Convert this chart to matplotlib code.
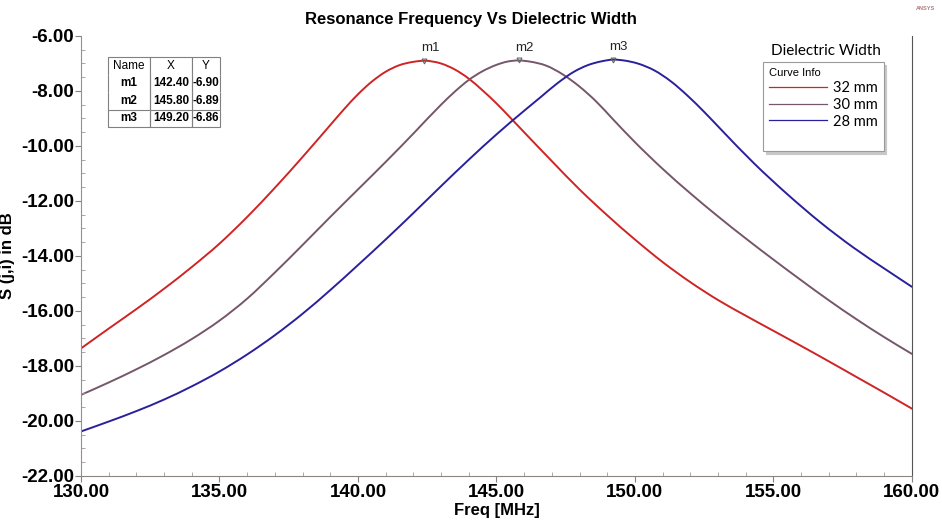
import numpy as np
import matplotlib.pyplot as plt
from matplotlib.ticker import MultipleLocator, FormatStrFormatter
from matplotlib.lines import Line2D
from matplotlib.path import Path
from matplotlib.patches import PathPatch

# S(j,i) sweeps for three dielectric widths
freq_32 = [130, 131, 132, 133, 134, 135, 136, 137, 138, 139, 139.5, 140,
           140.5, 141, 141.5, 142, 142.4, 143, 143.5, 144, 144.5, 145, 145.5,
           146, 147, 148, 149, 150, 151, 152, 153, 154, 155, 156, 157, 158,
           159, 160]
sdb_32 = [-17.36, -16.64, -15.93, -15.19, -14.40, -13.55, -12.58, -11.52,
          -10.40, -9.24, -8.66, -8.12, -7.66, -7.30, -7.06, -6.94, -6.90,
          -7.00, -7.22, -7.55, -7.98, -8.45, -8.97, -9.50, -10.55, -11.58,
          -12.52, -13.40, -14.22, -14.95, -15.60, -16.17, -16.72, -17.27,
          -17.83, -18.40, -18.97, -19.55]

freq_30 = [130, 131, 132, 133, 134, 135, 136, 137, 138, 139, 140, 141, 142,
           143, 143.5, 144, 144.5, 145, 145.4, 145.8, 146.2, 146.8, 147.4,
           148, 148.6, 149.2, 150, 151, 152, 153, 154, 155, 156, 157, 158,
           159, 160]
sdb_30 = [-19.05, -18.60, -18.12, -17.60, -17.02, -16.35, -15.55, -14.60,
          -13.60, -12.58, -11.58, -10.58, -9.55, -8.50, -8.02, -7.60, -7.28,
          -7.05, -6.93, -6.89, -6.93, -7.08, -7.40, -7.84, -8.38, -9.02,
          -9.86, -10.83, -11.72, -12.56, -13.36, -14.13, -14.88, -15.61,
          -16.30, -16.95, -17.56]

freq_28 = [130, 131, 132, 133, 134, 135, 136, 137, 138, 139, 140, 141, 142,
           143, 144, 145, 146, 146.6, 147.2, 147.8, 148.3, 148.8, 149.2,
           149.6, 150.1, 150.7, 151.3, 151.9, 152.5, 153.1, 154.3, 155.5,
           156.7, 157.9, 159.1, 160]
sdb_28 = [-20.38, -20.02, -19.64, -19.22, -18.74, -18.20, -17.58, -16.88,
          -16.10, -15.24, -14.33, -13.40, -12.44, -11.46, -10.50, -9.58,
          -8.72, -8.22, -7.72, -7.30, -7.06, -6.92, -6.86, -6.89, -7.00,
          -7.25, -7.65, -8.17, -8.76, -9.39, -10.63, -11.75, -12.78, -13.70,
          -14.52, -15.12]

series = [
    ("32 mm", freq_32, sdb_32, "#cf2424"),
    ("30 mm", freq_30, sdb_30, "#76566a"),
    ("28 mm", freq_28, sdb_28, "#2a209c"),
]

# marker readout at each resonance
marker_names = ["m1", "m2", "m3"]
marker_x = [142.40, 145.80, 149.20]
marker_y = [-6.90, -6.89, -6.86]


def smooth_path(x, y):
    # cubic Hermite through the samples, written as Bezier segments
    x = np.asarray(x, float)
    y = np.asarray(y, float)
    h = np.diff(x)
    d = np.diff(y) / h
    m = np.empty_like(y)
    m[0], m[-1] = d[0], d[-1]
    m[1:-1] = (d[:-1] * h[1:] + d[1:] * h[:-1]) / (h[:-1] + h[1:])
    verts = [(x[0], y[0])]
    codes = [Path.MOVETO]
    for i in range(len(h)):
        verts += [(x[i] + h[i] / 3, y[i] + m[i] * h[i] / 3),
                  (x[i + 1] - h[i] / 3, y[i + 1] - m[i + 1] * h[i] / 3),
                  (x[i + 1], y[i + 1])]
        codes += [Path.CURVE4] * 3
    return Path(verts, codes)


plt.rcParams['font.family'] = ['Liberation Sans', 'DejaVu Sans']

fig = plt.figure(figsize=(9.42, 5.27), dpi=100)
ax = fig.add_axes([0.086, 0.0968, 0.882, 0.8349])

for name, f, s, c in series:
    ax.add_patch(PathPatch(smooth_path(f, s), fill=False, edgecolor=c,
                           lw=1.4, capstyle='round'))

for name, mx, my in zip(marker_names, marker_x, marker_y):
    ax.plot(mx, my, marker='v', ms=3.5, mfc='none', mec='#666666', mew=0.8)
    ax.annotate(name, (mx, my), xytext=(4, 5), textcoords='offset points',
                ha='center', va='bottom', fontsize=9.5, color='#222222')

ax.set_xlim(130, 160)
ax.set_ylim(-22, -6)
ax.xaxis.set_major_locator(MultipleLocator(5))
ax.xaxis.set_minor_locator(MultipleLocator(1))
ax.yaxis.set_major_locator(MultipleLocator(2))
ax.yaxis.set_minor_locator(MultipleLocator(0.5))
ax.xaxis.set_major_formatter(FormatStrFormatter('%.2f'))
ax.yaxis.set_major_formatter(FormatStrFormatter('%.2f'))
ax.tick_params(which='major', direction='out', length=4, width=0.8,
               color='#8a7f7a', labelsize=13.5, pad=1)
ax.tick_params(axis='x', which='major', pad=2)
ax.tick_params(which='minor', direction='in', length=3, width=0.6,
               color='#a09590')
for lab in ax.get_xticklabels() + ax.get_yticklabels():
    lab.set_fontweight('bold')

ax.spines['top'].set_visible(False)
ax.spines['left'].set_color('#9a8f8a')
ax.spines['bottom'].set_color('#8a8580')
ax.spines['right'].set_color('#555555')

ax.set_xlabel('Freq [MHz]', fontsize=12, fontweight='bold', labelpad=1)
ax.set_ylabel('S (j,i) in dB', fontsize=12, fontweight='bold', labelpad=4)
fig.suptitle('Resonance Frequency Vs Dielectric Width', fontsize=12,
             fontweight='bold', x=0.5, y=0.978)
fig.text(0.993, 0.988, 'ANSYS', fontsize=4, fontweight='bold',
         color='#b07a7a', ha='right', va='top')

# marker table
cell_text = [[n, '%.2f' % x, '%.2f' % y]
             for n, x, y in zip(marker_names, marker_x, marker_y)]
tbl = ax.table(cellText=cell_text, colLabels=['Name', 'X', 'Y'],
               cellLoc='center', bbox=[0.0325, 0.793, 0.135, 0.159],
               colWidths=[0.375, 0.375, 0.25])
tbl.auto_set_font_size(False)
tbl.set_fontsize(8.5)
for (r, c), cell in tbl.get_celld().items():
    cell.set_edgecolor('#808080')
    cell.set_linewidth(0.8)
    cell.PAD = 0.04
    if r == 0:
        cell.visible_edges = 'TLR'
    elif r == 1:
        cell.visible_edges = 'LR'
    else:
        cell.visible_edges = 'BLR'
    if r > 0:
        cell.get_text().set_fontweight('bold')

# legend, with a spare empty row at the bottom of the box
handles = [Line2D([], [], color=c, lw=0.9) for _, _, _, c in series]
handles.append(Line2D([], [], color='none'))
labels = [n for n, _, _, _ in series] + [' ']
leg = ax.legend(handles, labels, title='Curve Info', loc='upper left',
                bbox_to_anchor=(0.821, 0.941), borderaxespad=0,
                prop={'family': 'Lato', 'size': 10.5}, handlelength=4.0,
                handletextpad=0.4, labelspacing=0.2, borderpad=0.4,
                fancybox=False, shadow={'color': '#c8c8c8', 'alpha': 1},
                alignment='left', framealpha=1)
leg.get_title().set_fontsize(8)
leg.get_frame().set_edgecolor('#9a9a9a')
leg.get_frame().set_linewidth(0.8)
ax.text(0.896, 0.95, 'Dielectric Width', transform=ax.transAxes,
        ha='center', va='bottom', fontsize=11, family='Lato')

fig.savefig('out.png', dpi=100)
